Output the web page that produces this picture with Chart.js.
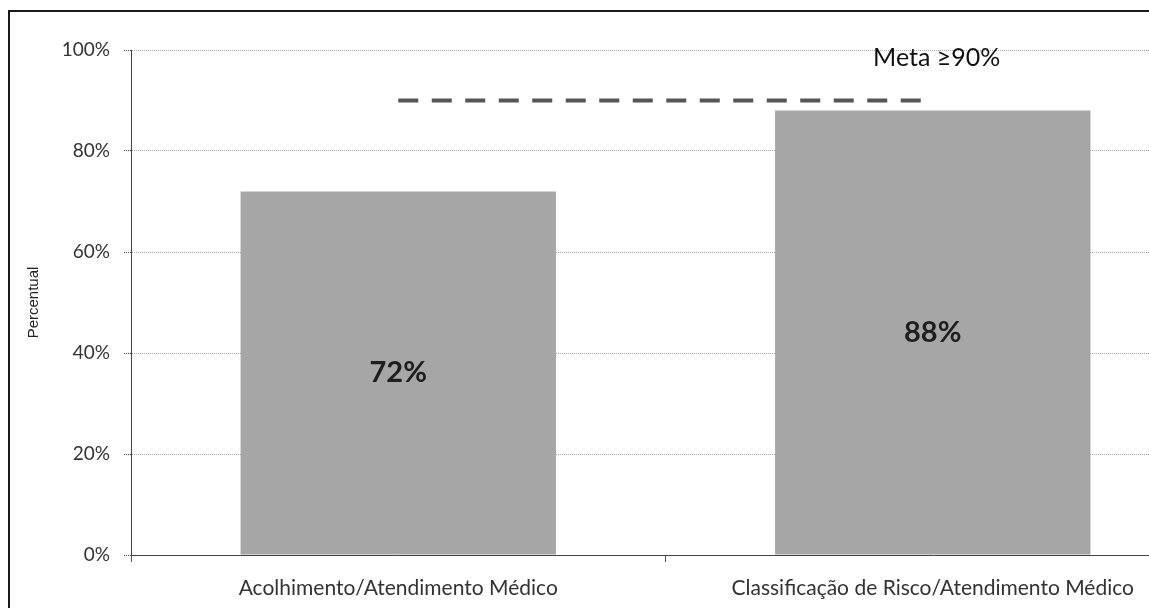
<!DOCTYPE html>
<html>
<head>
<meta charset="utf-8">
<script src="https://cdn.jsdelivr.net/npm/chart.js@4/dist/chart.umd.min.js"></script>
<style>
  html, body { margin: 0; padding: 0; background: #fff; overflow: hidden; width: 1149px; height: 608px; }
  #wrap { position: relative; width: 1149px; height: 608px; overflow: hidden; }
  #c { position: absolute; left: 0; top: 0; }
  #frame { position: absolute; left: 8px; top: 10px; width: 1200px; height: 700px;
           border-top: 2px solid #1a1a1a; border-left: 2px solid #1a1a1a; pointer-events: none; }
</style>
</head>
<body>
<div id="wrap">
  <canvas id="c" width="1210" height="608"></canvas>
  <div id="frame"></div>
</div>
<script>
// Categories and values (percent)
const categories = ['Acolhimento/Atendimento Médico', 'Classificação de Risco/Atendimento Médico'];
const percentValues = [72, 88];
const goalValues = [90, 90];
const goalLabel = 'Meta \u226590%';
const yTicks = [0, 20, 40, 60, 80, 100];

const FONT = 'Lato, "Open Sans", "DejaVu Sans", sans-serif';

// Bold percentage labels centred in each bar, plus the goal caption
const barLabels = {
  id: 'barLabels',
  afterDatasetsDraw(chart) {
    const ctx = chart.ctx;
    const meta = chart.getDatasetMeta(1);
    ctx.save();
    ctx.font = 'bold 29px ' + FONT;
    ctx.fillStyle = '#1e1e1e';
    ctx.textAlign = 'center';
    ctx.textBaseline = 'middle';
    meta.data.forEach((bar, i) => {
      const mid = (bar.y + bar.base) / 2;
      ctx.fillText(percentValues[i] + '%', bar.x, mid);
    });
    // goal caption above the dashed line
    const xs = chart.scales.x, ys = chart.scales.y;
    ctx.font = '25px ' + FONT;
    ctx.fillStyle = '#111';
    ctx.fillText(goalLabel, xs.getPixelForValue(1) + 4, ys.getPixelForValue(98.4));
    ctx.restore();
  }
};

new Chart(document.getElementById('c'), {
  data: {
    labels: categories,
    datasets: [
      {
        type: 'line',
        data: goalValues,
        borderColor: '#555555',
        borderWidth: 4,
        borderDash: [20, 13.5],
        borderCapStyle: 'butt',
        pointRadius: 0,
        fill: false,
        order: 0
      },
      {
        type: 'bar',
        data: percentValues,
        backgroundColor: '#a6a6a6',
        borderWidth: 0,
        categoryPercentage: 1,
        barPercentage: 0.59,
        order: 1
      }
    ]
  },
  options: {
    responsive: false,
    animation: false,
    layout: { padding: { top: 50, left: 0, right: 10, bottom: 0 } },
    plugins: { legend: { display: false }, tooltip: { enabled: false } },
    scales: {
      x: {
        offset: true,
        grid: {
          offset: true,
          drawOnChartArea: false,
          drawTicks: true,
          tickLength: 7,
          color: '#555'
        },
        border: { display: true, color: '#444', dash: [1, 1] },
        ticks: {
          padding: 14,
          color: '#333',
          font: { family: FONT, size: 21 }
        },
        afterFit(s) { s.height = 53; }
      },
      y: {
        min: 0,
        max: 100,
        afterBuildTicks(s) { s.ticks = yTicks.map(v => ({ value: v })); },
        grid: {
          color: '#a8a8a8',
          tickColor: '#444',
          tickLength: 7,
          tickBorderDash: [1, 1]
        },
        border: { display: true, color: '#444', dash: [1, 1] },
        ticks: {
          padding: 14,
          color: '#333',
          font: { family: FONT, size: 19 },
          callback: v => v + '%'
        },
        title: {
          display: true,
          text: 'Percentual',
          color: '#222',
          font: { family: '"Liberation Sans", Arial, sans-serif', size: 15 },
          padding: { top: 25, bottom: 0 }
        },
        afterFit(s) { s.width = 131; }
      }
    }
  },
  plugins: [barLabels, {
    id: 'dashedGrid',
    beforeDraw(chart) {
      chart.options.scales.y.grid.borderDash = [21, 14];
    }
  }]
});
</script>
</body>
</html>
